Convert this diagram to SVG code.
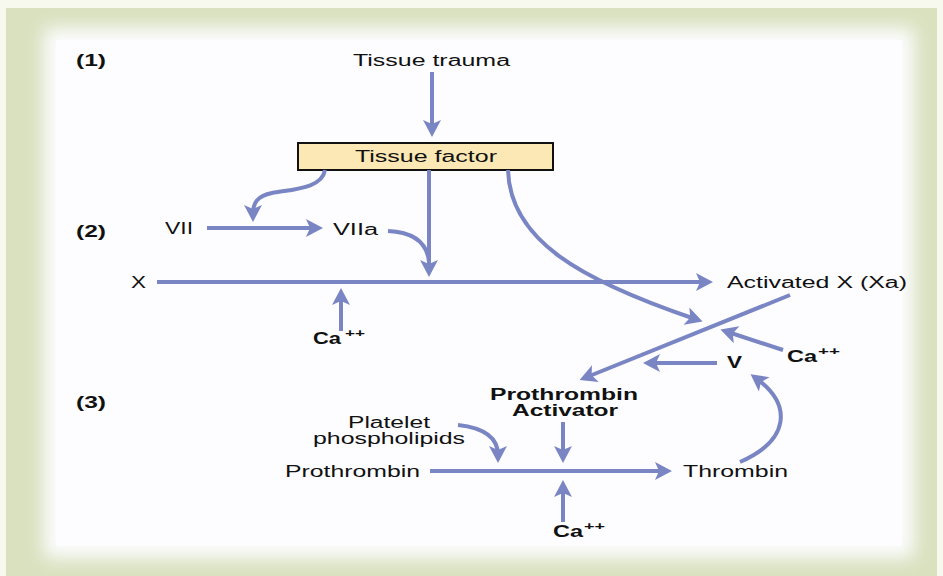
<svg xmlns="http://www.w3.org/2000/svg" width="943" height="576" viewBox="0 0 943 576">
<defs>
<filter id="soft" x="-10%" y="-10%" width="120%" height="120%"><feGaussianBlur stdDeviation="9"/></filter>
<marker id="ah" markerUnits="userSpaceOnUse" markerWidth="24" markerHeight="24" viewBox="-12 -12 24 24" refX="0" refY="0" orient="auto">
<path d="M8,0 L-9,-9 L-5,0 L-9,9 Z" fill="#7a85c4"/>
</marker>
</defs>
<style>
.c{fill:none;stroke:#7a85c4;stroke-width:4}
.a{marker-end:url(#ah)}
text{font-family:"Liberation Sans",Arial,sans-serif;font-size:16px;fill:#111}
.b{font-weight:bold}
.sup{font-size:11px;font-weight:bold}
</style>
<rect x="0" y="0" width="943" height="576" fill="#f7f8ee"/>
<rect x="6" y="8" width="931" height="568" fill="#d9e1bf"/>
<rect x="44" y="28" width="870" height="530" fill="#fdfdff" filter="url(#soft)"/>
<rect x="56" y="40" width="846" height="506" fill="#fdfdff"/>

<g id="labels">
<text x="76" y="66" class="b" textLength="30" lengthAdjust="spacingAndGlyphs">(1)</text>
<text x="76" y="237" class="b" textLength="30" lengthAdjust="spacingAndGlyphs">(2)</text>
<text x="76" y="408" class="b" textLength="30" lengthAdjust="spacingAndGlyphs">(3)</text>
</g>

<g id="tissue-trauma"><text x="353" y="66" textLength="157" lengthAdjust="spacingAndGlyphs">Tissue trauma</text></g>
<g id="tissue-factor">
<rect x="298" y="143" width="255" height="27" fill="#fbe8b4" stroke="#111" stroke-width="2"/>
<text x="355" y="162" textLength="142" lengthAdjust="spacingAndGlyphs">Tissue factor</text>
</g>
<g id="vii"><text x="165" y="234" textLength="28" lengthAdjust="spacingAndGlyphs">VII</text></g>
<g id="viia"><text x="333" y="235" textLength="45" lengthAdjust="spacingAndGlyphs">VIIa</text></g>
<g id="x"><text x="131" y="288" textLength="15" lengthAdjust="spacingAndGlyphs">X</text></g>
<g id="xa"><text x="727" y="288" textLength="180" lengthAdjust="spacingAndGlyphs">Activated X (Xa)</text></g>
<g id="ca1"><text x="313" y="344" class="b" textLength="28" lengthAdjust="spacingAndGlyphs">Ca</text><text x="345" y="337" class="sup" textLength="20" lengthAdjust="spacingAndGlyphs">++</text></g>
<g id="ca2"><text x="787" y="362" class="b" textLength="30" lengthAdjust="spacingAndGlyphs">Ca</text><text x="818" y="355" class="sup" textLength="22" lengthAdjust="spacingAndGlyphs">++</text></g>
<g id="v"><text x="727" y="368" class="b" textLength="15" lengthAdjust="spacingAndGlyphs">V</text></g>
<g id="prothrombin-activator">
<text x="490" y="400" class="b" textLength="148" lengthAdjust="spacingAndGlyphs">Prothrombin</text>
<text x="512" y="416" class="b" textLength="106" lengthAdjust="spacingAndGlyphs">Activator</text>
</g>
<g id="platelet">
<text x="348" y="428" textLength="82" lengthAdjust="spacingAndGlyphs">Platelet</text>
<text x="313" y="444" textLength="152" lengthAdjust="spacingAndGlyphs">phospholipids</text>
</g>
<g id="prothrombin"><text x="285" y="477" textLength="135" lengthAdjust="spacingAndGlyphs">Prothrombin</text></g>
<g id="thrombin"><text x="683" y="477" textLength="105" lengthAdjust="spacingAndGlyphs">Thrombin</text></g>
<g id="ca3"><text x="553" y="537" class="b" textLength="30" lengthAdjust="spacingAndGlyphs">Ca</text><text x="584" y="530" class="sup" textLength="21" lengthAdjust="spacingAndGlyphs">++</text></g>

<g id="connectors">
<path class="c a" d="M432 72 L432 129"/>
<path class="c a" d="M429 170 L429 269"/>
<path class="c a" d="M325 170 C322 188 295 189 272 193 C257 196 253 203 253 214"/>
<path class="c a" d="M207 228 L315 228"/>
<path class="c" d="M388 231 C410 232 427 240 429 262"/>
<path class="c a" d="M157 282 L705 282"/>
<path class="c a" d="M341 331 L341 296"/>
<path class="c a" d="M508 170 C510 240 580 280 695 319"/>
<path class="c a" d="M790 295 L587 377"/>
<path class="c a" d="M783 350 L728 332"/>
<path class="c a" d="M717 363 L651 363"/>
<path class="c a" d="M740 462 C790 440 792 405 757 379"/>
<path class="c a" d="M458 425 C485 428 498 438 498 455"/>
<path class="c a" d="M563 422 L563 455"/>
<path class="c a" d="M430 471 L664 471"/>
<path class="c a" d="M563 522 L563 488"/>
</g>
</svg>
